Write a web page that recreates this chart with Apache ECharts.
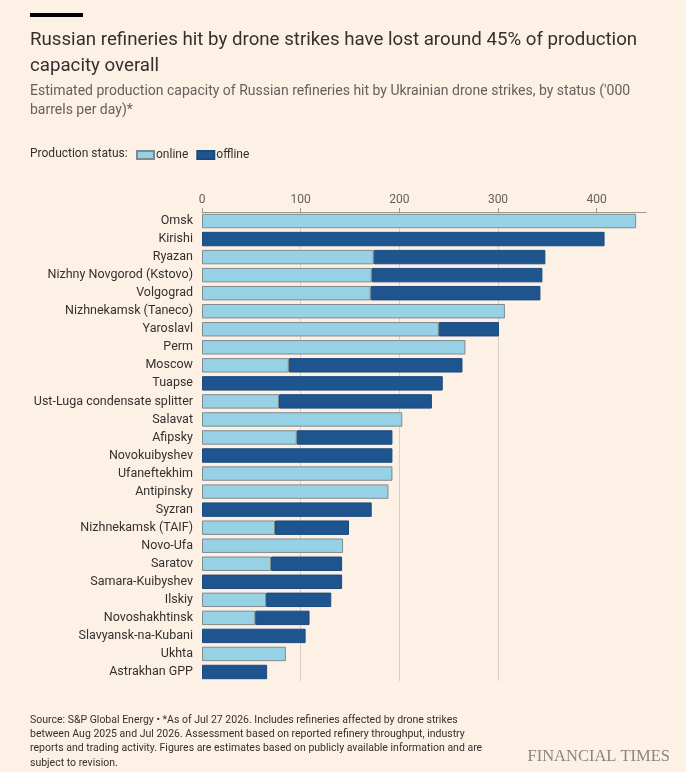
<!DOCTYPE html>
<html>
<head>
<meta charset="utf-8">
<script src="https://cdn.jsdelivr.net/npm/echarts@6/dist/echarts.min.js"></script>
<style>
  html, body { margin: 0; padding: 0; background: #fdf1e6; }
  #chart { width: 686px; height: 772px; }
</style>
</head>
<body>
<div id="chart"></div>
<script>
// refineries, top to bottom
const refineries = [
  'Omsk', 'Kirishi', 'Ryazan', 'Nizhny Novgorod (Kstovo)', 'Volgograd',
  'Nizhnekamsk (Taneco)', 'Yaroslavl', 'Perm', 'Moscow', 'Tuapse',
  'Ust-Luga condensate splitter', 'Salavat', 'Afipsky', 'Novokuibyshev',
  'Ufaneftekhim', 'Antipinsky', 'Syzran', 'Nizhnekamsk (TAIF)', 'Novo-Ufa',
  'Saratov', 'Samara-Kuibyshev', 'Ilskiy', 'Novoshakhtinsk',
  'Slavyansk-na-Kubani', 'Ukhta', 'Astrakhan GPP'
];
// '000 barrels per day
const online = [
  440, 0, 174, 172, 171,
  307, 240, 267, 88, 0,
  78, 203, 96, 0,
  193, 189, 0, 74, 143,
  70, 0, 65, 54,
  0, 85, 0
];
const offline = [
  0, 408, 174, 173, 172,
  0, 61, 0, 176, 244,
  155, 0, 97, 193,
  0, 0, 172, 75, 0,
  72, 142, 66, 55,
  105, 0, 66
];
const xTicks = [0, 100, 200, 300, 400];

const font = 'Roboto, "Noto Sans", sans-serif';
const ink = '#33302e';
const grey = '#66605c';

// zero parts are left out so no empty bar edge is drawn
const noZero = arr => arr.map(v => (v === 0 ? '-' : v));

const chart = echarts.init(document.getElementById('chart'));
chart.setOption({
  backgroundColor: '#fdf1e6',
  textStyle: { fontFamily: font },
  title: [{
    text: 'Russian refineries hit by drone strikes have lost around 45% of production\ncapacity overall',
    left: 30, top: 27,
    textStyle: { fontFamily: font, fontSize: 18.7, fontWeight: 'normal', color: ink, lineHeight: 26 },
    subtext: 'Estimated production capacity of Russian refineries hit by Ukrainian drone strikes, by status (\'000\nbarrels per day)*',
    subtextStyle: { fontFamily: font, fontSize: 14, color: grey, lineHeight: 19 },
    itemGap: 3,
    padding: 0
  }],
  legend: {
    left: 136, top: 149,
    padding: 0,
    icon: 'rect',
    itemWidth: 17, itemHeight: 8,
    itemGap: 8,
    textStyle: { fontFamily: font, fontSize: 12, color: ink, padding: [0, 0, 0, -3] },
    data: ['online', 'offline']
  },
  grid: { left: 202, right: 40, top: 212, bottom: 91, containLabel: false },
  xAxis: {
    type: 'value',
    position: 'top',
    min: 0, max: 450, interval: 100,
    axisLine: { show: true, lineStyle: { color: '#a09890', width: 1 } },
    axisTick: { show: true, length: 4, lineStyle: { color: '#a09890' }, customValues: xTicks },
    axisLabel: { color: grey, fontSize: 12, fontFamily: font, margin: 6, customValues: xTicks },
    splitLine: { show: true, showMinLine: false, showMaxLine: false, lineStyle: { color: '#d9cfc5', width: 1 } }
  },
  yAxis: {
    type: 'category',
    inverse: true,
    data: refineries,
    axisLine: { show: false },
    axisTick: { show: false },
    axisLabel: { color: ink, fontSize: 12.5, fontFamily: font, margin: 9 }
  },
  series: [{
    name: 'online',
    type: 'bar',
    stack: 'total',
    data: noZero(online),
    barCategoryGap: '20%',
    itemStyle: { color: '#96d1e6', borderColor: '#7f8a8d', borderWidth: 1 },
    emphasis: { disabled: true }
  }, {
    name: 'offline',
    type: 'bar',
    stack: 'total',
    data: noZero(offline),
    barCategoryGap: '20%',
    itemStyle: { color: '#1e558f', borderColor: '#1a4a7d', borderWidth: 1 },
    emphasis: { disabled: true }
  }],
  graphic: [{
    type: 'rect',
    shape: { x: 30, y: 13, width: 53, height: 4 },
    style: { fill: '#000000' }
  }, {
    type: 'text',
    left: 30, top: 148,
    style: { text: 'Production status:', font: '12px ' + font, fill: ink }
  }, {
    type: 'text',
    left: 30, top: 713,
    style: {
      text: 'Source: S&P Global Energy \u2022 *As of Jul 27 2026. Includes refineries affected by drone strikes\n' +
        'between Aug 2025 and Jul 2026. Assessment based on reported refinery throughput, industry\n' +
        'reports and trading activity. Figures are estimates based on publicly available information and are\n' +
        'subject to revision.',
      font: '10.5px ' + font, fill: ink, lineHeight: 14.3
    }
  }, {
    type: 'text',
    right: 16, top: 748,
    style: { text: 'FINANCIAL TIMES', font: '16.5px "Liberation Serif", serif', fill: '#8a8580' }
  }]
});
</script>
</body>
</html>
